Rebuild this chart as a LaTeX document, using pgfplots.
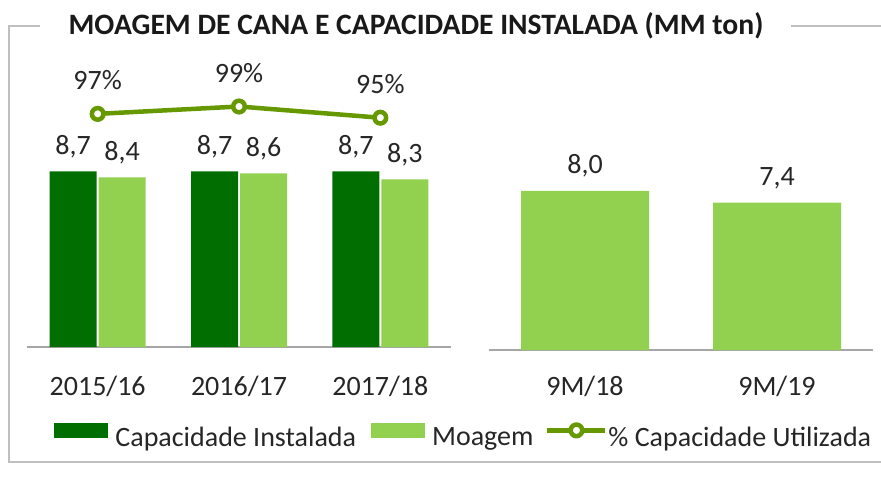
\documentclass[border=0pt]{standalone}
\usepackage{fontspec}
\setmainfont{Carlito}
\usepackage{pgfplots}
\pgfplotsset{compat=1.18}
\usepackage{pgfplotstable}

\definecolor{dkgreen}{HTML}{006E00}
\definecolor{ltgreen}{HTML}{92D050}
\definecolor{olivegr}{HTML}{669900}
\definecolor{framegray}{HTML}{BFBFBF}
\definecolor{axgray}{HTML}{A6A6A6}
\definecolor{txt}{HTML}{262626}

\pgfplotstableread{
x cap moag pct
0 8.7 8.4 96.6
1 8.7 8.6 98.9
2 8.7 8.3 95.4
}\annual
\pgfplotstableread{
x moag
0 8.0
1 7.4
}\ninem

\pgfplotsset{
  every axis/.append style={font=\fontsize{14}{16}\selectfont},
  /pgf/number format/assume math mode=true,
  pctleg/.style={legend image code/.code={%
    \pgfpathrectangle{\pgfpoint{0pt}{0pt}}{\pgfpoint{26.5pt}{8pt}}%
    \pgfusepath{use as bounding box}%
    \begin{scope}[overlay]
    \draw[olivegr, line width=2.25pt, fill=none] (-0.5pt,4pt) -- (28.5pt,4pt);
    \draw[olivegr, line width=2.25pt, fill=white] (14pt,4pt) circle (2.9pt);
    \end{scope}}},
}

\begin{document}
\begin{tikzpicture}[x=0.5pt,y=0.5pt]
\path[use as bounding box] (0,0) rectangle (881,487);
% frame
\draw[framegray, line width=1pt] (40,461) -- (9,461) -- (9,25.5) -- (881,25.5);
\draw[framegray, line width=1pt] (791,461) -- (881,461);
\node[font=\fontsize{14.8}{16}\selectfont\bfseries, text=black!90, inner sep=0pt, anchor=base] at (416,452) {MOAGEM DE CANA E CAPACIDADE INSTALADA (MM ton)};

% left panel: bars
\begin{axis}[
  at={(13.5pt,70pt)}, anchor=south west, scale only axis,
  width=212pt, height=121.2pt,
  xmin=-0.5, xmax=2.5, ymin=0, ymax=12,
  axis x line*=bottom, axis y line=none,
  x axis line style={axgray, line width=1.25pt, -},
  xtick={0,1,2}, xticklabels={2015/16,2016/17,2017/18},
  major tick length=0pt,
  xticklabel style={anchor=base, yshift=-24pt, inner sep=0pt, text=txt},
  ybar, bar width=23.5pt,
  nodes near coords,
  nodes near coords style={anchor=base, yshift=8.5pt, inner sep=0pt, text=txt,
    /pgf/number format/.cd, use comma, fixed, fixed zerofill, precision=1},
  clip=false,
  legend columns=3,
  legend cell align=left,
  legend style={at={(0.0638,-0.367)}, anchor=west, draw=none, fill=none,
    inner sep=0pt, nodes={inner sep=0pt, text=txt},
    /tikz/every odd column/.append style={column sep=3.5pt},
    /tikz/every even column/.append style={column sep=7.5pt}},
]
\addplot[fill=dkgreen, draw=none, bar shift=-12.25pt,
  legend image code/.code={\fill[dkgreen] (0pt,0pt) rectangle (27pt,7.5pt);}]
  table[x=x,y=cap] {\annual};
\addlegendentry{Capacidade Instalada}
\addplot[fill=ltgreen, draw=none, bar shift=12.25pt,
  legend image code/.code={\fill[ltgreen] (0pt,0pt) rectangle (27pt,7.5pt);}]
  table[x=x,y=moag] {\annual};
\addlegendentry{Moagem}
\addlegendimage{pctleg}
\addlegendentry{\% Capacidade Utilizada}
\end{axis}

% left panel: percentage line
\begin{axis}[
  at={(13.5pt,70pt)}, anchor=south west, scale only axis,
  width=212pt, height=121.2pt,
  xmin=-0.5, xmax=2.5, ymin=23.8, ymax=99.5,
  axis lines=none, clip=false,
  nodes near coords={\pgfmathprintnumber[fixed,precision=0]{\pgfplotspointmeta}\%},
  nodes near coords style={anchor=base, yshift=12pt, inner sep=0pt, text=txt},
]
\addplot[olivegr, line width=2.25pt, mark=*, mark size=2.9pt,
  mark options={fill=white, draw=olivegr, line width=2.25pt}]
  table[x=x,y=pct] {\annual};
\end{axis}

% right panel
\begin{axis}[
  at={(244.5pt,68.5pt)}, anchor=south west, scale only axis,
  width=192pt, height=119.4pt,
  xmin=-0.5, xmax=1.5, ymin=0, ymax=12,
  axis x line*=bottom, axis y line=none,
  x axis line style={axgray, line width=1.25pt, -},
  xtick={0,1}, xticklabels={9M/18,9M/19},
  major tick length=0pt,
  xticklabel style={anchor=base, yshift=-22.5pt, inner sep=0pt, text=txt},
  ybar, bar width=64pt,
  nodes near coords,
  nodes near coords style={anchor=base, yshift=8.5pt, inner sep=0pt, text=txt,
    /pgf/number format/.cd, use comma, fixed, fixed zerofill, precision=1},
  clip=false,
]
\addplot[fill=ltgreen, draw=none, bar shift=0pt] table[x=x,y=moag] {\ninem};
\end{axis}
\end{tikzpicture}
\end{document}
